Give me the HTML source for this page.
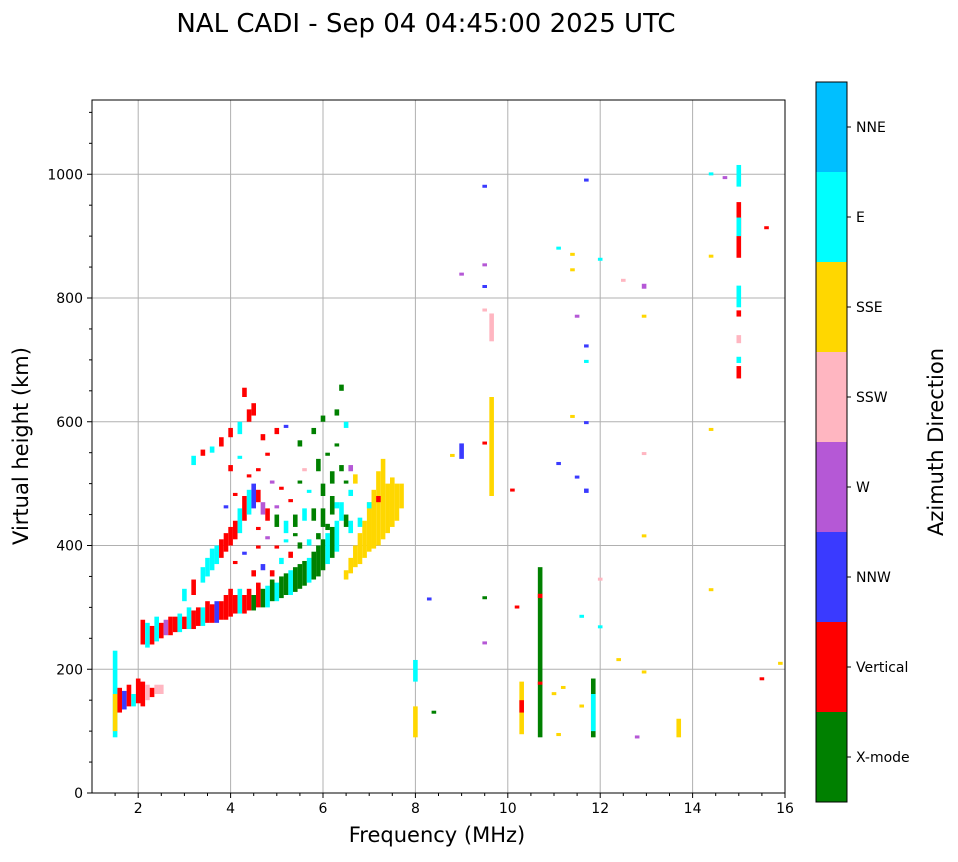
<!DOCTYPE html>
<html><head><meta charset="utf-8"><style>
body{margin:0;background:#fff;width:958px;height:857px;overflow:hidden;font-family:"Liberation Sans",sans-serif}
svg text{font-family:"DejaVu Sans","Liberation Sans",sans-serif}
</style></head><body>
<svg id="chart" width="958" height="857">
<text x="426" y="32" font-size="26" text-anchor="middle">NAL CADI - Sep 04 04:45:00 2025 UTC</text>
<g id="grid"></g><g id="marks"></g><g id="axes"></g><g id="cbar"></g>
<text x="437" y="842" font-size="21" text-anchor="middle">Frequency (MHz)</text>
<text transform="translate(28,446) rotate(-90)" font-size="21" text-anchor="middle">Virtual height (km)</text>
<text transform="translate(943,442) rotate(-90)" font-size="21" text-anchor="middle">Azimuth Direction</text>
</svg>
<script>
const directions=["X-mode","Vertical","NNW","W","SSW","SSE","E","NNE"];
const dirColors=["#008000","#ff0000","#3a3aff","#b558d6","#ffb6c1","#ffd700","#00ffff","#00bfff"];
const xTicks=[2,4,6,8,10,12,14,16];
const yTicks=[0,200,400,600,800,1000];
// echoes: frequency (MHz), height from, height to (km), direction index
const echoes=[
"1.5,90,230,6","1.5,100,160,5","1.6,130,170,1","1.7,135,165,2","1.8,140,175,1","1.9,140,160,6","2.0,145,185,1","2.1,140,180,1","2.2,150,175,4","2.3,155,170,1","2.4,160,175,4","2.5,160,175,4",
"2.1,240,280,1","2.2,235,275,6","2.3,240,270,1","2.4,245,285,6","2.5,250,275,1","2.6,255,280,3","2.7,255,285,1","2.8,260,285,1","2.9,260,290,6","3.0,265,285,1","3.1,265,300,6","3.2,265,295,1","3.3,270,300,1","3.4,270,300,6","3.5,275,310,1","3.6,275,305,1","3.7,275,310,2","3.8,280,310,1","3.9,280,320,1","4.0,285,330,1","4.1,290,320,1","4.2,290,330,6","4.3,290,320,1","4.4,295,330,1","4.5,295,320,0","4.6,300,340,1","4.7,300,330,0","4.8,300,335,6","4.9,310,345,0","5.0,310,340,6","5.1,315,350,0","5.2,320,355,0","5.3,320,360,6","5.4,325,365,0","5.5,330,370,0","5.6,335,375,0","5.7,340,380,6","5.8,345,390,0","5.9,350,400,0","6.0,360,410,0","6.1,370,420,6","6.2,380,430,0","6.3,390,440,6",
"3.0,310,330,6","3.2,320,345,1","3.4,340,365,6","3.5,350,380,6","3.6,360,395,6","3.7,370,400,6","3.8,380,410,1","3.9,390,420,1","4.0,400,430,1","4.1,410,440,1","4.2,420,460,6","4.3,440,480,1","4.4,450,490,6","4.5,460,500,2","4.6,470,490,1","4.7,450,470,3","4.8,440,460,1","5.0,430,450,0","5.2,420,440,6","5.4,430,450,0","5.6,440,460,6","5.8,440,460,0","6.0,430,460,0","6.2,450,480,0","6.4,440,470,6","6.5,430,450,0",
"4.5,350,360,1","4.7,360,370,2","4.9,350,360,1","5.1,370,380,6","5.3,380,390,1","5.5,395,405,0","5.7,400,410,6","5.9,410,420,0","6.1,425,435,0","6.3,460,470,6","6.0,480,500,0","6.2,500,520,0","5.9,520,540,0",
"4.1,370,375,1","4.3,385,390,2","4.6,395,400,1","4.8,410,415,3","5.0,395,400,1","5.2,405,410,6","5.4,415,420,0","4.4,510,515,1","4.6,520,525,1","4.9,500,505,3","5.1,490,495,1","5.3,470,475,1","5.5,500,505,0","5.7,485,490,6","6.1,545,550,0","6.3,560,565,0","6.5,500,505,0","4.0,520,530,1","4.2,540,545,6","3.9,460,465,2","4.1,480,485,1","4.8,545,550,1","5.2,590,595,2","5.6,520,525,4","4.6,425,430,1","5.0,460,465,3","6.6,480,490,6","6.4,520,530,0",
"3.2,530,545,6","3.4,545,555,1","3.6,550,560,6","3.8,560,575,1","4.0,575,590,1","4.2,580,600,6","4.4,600,620,1","4.5,610,630,1","4.7,570,580,1","5.0,580,590,1","5.5,560,570,0","5.8,580,590,0","6.0,600,610,0","6.3,610,620,0","6.4,650,660,0","6.5,590,600,6","4.3,640,655,1",
"6.5,345,360,5","6.6,355,380,5","6.7,365,400,5","6.8,370,420,5","6.9,380,440,5","7.0,390,470,5","7.1,395,490,5","7.2,400,520,5","7.3,410,540,5","7.4,420,500,5","7.5,430,510,5","7.6,440,500,5","7.7,460,500,5","6.6,420,440,6","6.8,430,445,6","7.0,460,470,6","7.2,470,480,1","6.7,500,515,5","6.6,520,530,3",
"8.0,180,215,6","8.0,90,140,5","8.4,130,133,0","8.3,313,316,2","8.8,545,548,5","9.0,540,565,2","9.0,838,841,3","9.5,565,568,1","9.5,980,983,2","9.5,315,318,0","9.5,242,245,3","9.5,818,821,2","9.5,853,856,3","9.5,780,783,4","9.65,480,640,5","9.65,730,775,4","10.1,488,492,1","10.2,300,303,1","10.3,95,180,5","10.3,130,150,1","10.7,90,365,0","10.7,315,322,1","10.7,175,180,1","11.0,160,163,5","11.1,92,97,5","11.1,530,535,2","11.2,170,173,5","11.1,880,883,6","11.4,870,873,5","11.4,845,848,5","11.4,608,611,5","11.5,510,513,2","11.5,770,773,3","11.6,140,143,5","11.6,285,288,6","11.7,485,492,2","11.7,720,725,2","11.7,695,700,6","11.7,598,601,2","11.7,990,993,2","11.85,90,185,0","11.85,100,160,6","12.0,268,271,6","12.0,345,348,4","12.0,862,865,6","12.4,215,218,5","12.5,828,831,4","12.8,90,93,3","12.95,815,823,3","12.95,770,773,5","12.95,548,551,4","12.95,415,418,5","12.95,195,198,5","13.7,90,120,5","14.4,1000,1003,6","14.4,866,870,5","14.4,587,590,5","14.4,328,331,5","14.7,995,997,3","15.0,980,1015,6","15.0,865,955,1","15.0,900,930,6","15.0,785,820,6","15.0,770,780,1","15.0,727,740,4","15.0,695,705,6","15.0,670,690,1","15.6,914,916,1","15.5,185,187,1","15.9,210,212,5"
];
const NS="http://www.w3.org/2000/svg";
const L=92,R=785,T=100,B=793;
const sx=f=>L+(f-1)/15*(R-L);
const sy=h=>B-h/1120*(B-T);
function mk(tag,attrs,parent){const e=document.createElementNS(NS,tag);for(const k in attrs)e.setAttribute(k,attrs[k]);parent.appendChild(e);return e;}
const grid=document.getElementById('grid'),marks=document.getElementById('marks'),axes=document.getElementById('axes'),cbar=document.getElementById('cbar');
xTicks.forEach(v=>{const x=sx(v);
 const g=mk('line',{x1:x,x2:x,y1:T,y2:B,stroke:'#b0b0b0','stroke-width':1},grid);
 
 
 mk('line',{x1:x,x2:x,y1:B,y2:B+5,stroke:'#000'},axes);
 const t=mk('text',{x:x,y:B+20,'font-size':14,'text-anchor':'middle'},axes);t.textContent=v;
 
 });
yTicks.forEach(v=>{const y=sy(v);
 const g=mk('line',{x1:L,x2:R,y1:y,y2:y,stroke:'#b0b0b0','stroke-width':1},grid);
 
 
 mk('line',{x1:L-5,x2:L,y1:y,y2:y,stroke:'#000'},axes);
 const t=mk('text',{x:L-9,y:y+5,'font-size':14,'text-anchor':'end'},axes);t.textContent=v;
 
 });
for(let v=50;v<1120;v+=50){if(v%200)mk('line',{x1:L-3,x2:L,y1:sy(v),y2:sy(v),stroke:'#000'},axes);}
for(let v=1.5;v<16;v+=0.5){if(v%2)mk('line',{x1:sx(v),x2:sx(v),y1:B,y2:B+3,stroke:'#000'},axes);}
echoes.forEach(s=>{const [f,h0,h1,d]=s.split(',').map(Number);
 const r=mk('rect',{x:sx(f)-2.3,y:sy(h1),width:4.6,height:Math.max(3,sy(h0)-sy(h1)),fill:dirColors[d]},marks);
 
 });
const fr=mk('rect',{x:L,y:T,width:R-L,height:B-T,fill:'none',stroke:'#000','stroke-width':1},axes);


const cx=816,cw=31,ct=82,cb=802,seg=(cb-ct)/directions.length;
directions.forEach((n,i)=>{const y=cb-(i+1)*seg;
 const r=mk('rect',{x:cx,y:y,width:cw,height:seg,fill:dirColors[i]},cbar);
 
 
 mk('line',{x1:cx+cw,x2:cx+cw+4,y1:y+seg/2,y2:y+seg/2,stroke:'#000'},cbar);
 const t=mk('text',{x:856,y:y+seg/2+5,'font-size':14},cbar);t.textContent=n;
 
 });
mk('rect',{x:cx,y:ct,width:cw,height:cb-ct,fill:'none',stroke:'#000'},cbar);
</script>
</body></html>
